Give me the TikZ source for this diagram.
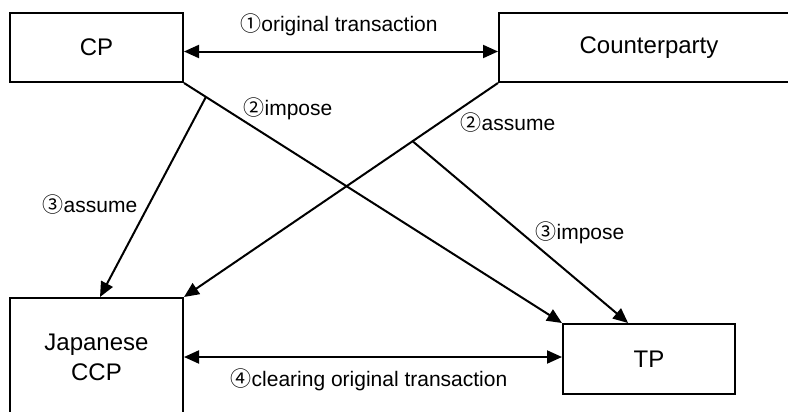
\documentclass[tikz,border=0pt]{standalone}
\usepackage{fontspec}
\setmainfont{Liberation Sans}
\newfontfamily\circfont{Noto Sans CJK JP}
\usetikzlibrary{arrows.meta,calc}

\tikzset{
    party/.style={draw, line width=1pt, rectangle, inner sep=0pt, align=center, font=\fontsize{12}{15}\selectfont},
    flow/.style={line width=1pt, -{Triangle[length=7.5pt,width=6.5pt]}},
    twoway/.style={line width=1pt, {Triangle[length=7.5pt,width=6.5pt]}-{Triangle[length=7.5pt,width=6.5pt]}},
    tag/.style={inner sep=0pt, font=\fontsize{10.5}{12}\selectfont}
}
\newcommand{\cnum}[1]{{\circfont #1}}

\begin{document}
\begin{tikzpicture}[x=0.5pt,y=-0.5pt]
        \useasboundingbox (0,0) rectangle (788,412);

        \node[party, minimum width=86.5pt, minimum height=34.5pt] (cp) at (96.5,47.5) {CP};
        \node[party, minimum width=150pt, minimum height=34.5pt] (cpty) at (649,47.5) {Counterparty};
        \node[party, minimum width=86.5pt, minimum height=59pt] (ccp) at (96.5,357) {Japanese\\CCP};
        \node[party, minimum width=86pt, minimum height=35pt] (tp) at (649,359) {TP};

        \coordinate (p1) at ($(cp.south east)!0.058!(tp.north west)$);
        \coordinate (p2) at ($(cpty.south west)!0.272!(ccp.north east)$);

        \draw[twoway] ([yshift=-2pt]cp.east) -- ([yshift=-2pt]cpty.west);
        \draw[flow] (cp.south east) -- (tp.north west);
        \draw[flow] (cpty.south west) -- (ccp.north east);
        \draw[flow] (p1) -- ([xshift=1.75pt]ccp.north);
        \draw[flow] (p2) -- ($(tp.north west)!0.38!(tp.north east)$);
        \draw[twoway] (ccp.east) -- (ccp.east -| tp.west);

        % labels
        \node[tag] (l1) at (339,25) {\cnum{①}original transaction};
        \node[tag] (l2) at (288,109) {\cnum{②}impose};
        \node[tag] (l3) at (508,123) {\cnum{②}assume};
        \node[tag] (l4) at (90,205) {\cnum{③}assume};
        \node[tag] (l5) at (580,233) {\cnum{③}impose};
        \node[tag] (l6) at (369,380) {\cnum{④}clearing original transaction};
\end{tikzpicture}
\end{document}
